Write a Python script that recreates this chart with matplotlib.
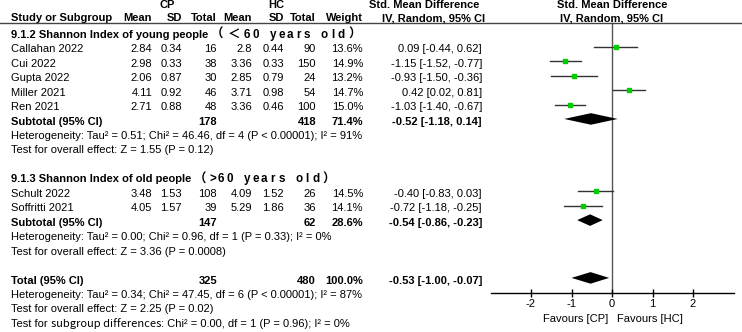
import matplotlib
matplotlib.use("Agg")
import matplotlib.pyplot as plt
import matplotlib.transforms as mtransforms

plt.rcParams['font.family'] = ['Liberation Sans', 'Noto Sans CJK SC', 'DejaVu Sans']
plt.rcParams['font.size'] = 8

# -----------------------------
# Data
# -----------------------------
group_titles = ["9.1.2 Shannon Index of young people", "9.1.3 Shannon Index of old people"]
group_ages = ["（＜60 years old）", "（>60 years old）"]
studies = ["Callahan 2022", "Cui 2022", "Gupta 2022", "Miller 2021", "Ren 2021",
           "Schult 2022", "Soffritti 2021"]
study_group = [0, 0, 0, 0, 0, 1, 1]
cp_mean = [2.84, 2.98, 2.06, 4.11, 2.71, 3.48, 4.05]
cp_sd = [0.34, 0.33, 0.87, 0.92, 0.88, 1.53, 1.57]
cp_n = [16, 38, 30, 46, 48, 108, 39]
hc_mean = [2.8, 3.36, 2.85, 3.71, 3.36, 4.09, 5.29]
hc_sd = [0.44, 0.33, 0.79, 0.98, 0.46, 1.52, 1.86]
hc_n = [90, 150, 24, 54, 100, 26, 36]
weight = [13.6, 14.9, 13.2, 14.7, 15.0, 14.5, 14.1]
smd = [0.09, -1.15, -0.93, 0.42, -1.03, -0.40, -0.72]
ci_lo = [-0.44, -1.52, -1.50, 0.02, -1.40, -0.83, -1.18]
ci_hi = [0.62, -0.77, -0.36, 0.81, -0.67, 0.03, -0.25]

sub_cp_n = [178, 147]
sub_hc_n = [418, 62]
sub_weight = [71.4, 28.6]
sub_smd = [-0.52, -0.54]
sub_lo = [-1.18, -0.86]
sub_hi = [0.14, -0.23]
sub_het = ["Heterogeneity: Tau² = 0.51; Chi² = 46.46, df = 4 (P < 0.00001); I² = 91%",
           "Heterogeneity: Tau² = 0.00; Chi² = 0.96, df = 1 (P = 0.33); I² = 0%"]
sub_test = ["Test for overall effect: Z = 1.55 (P = 0.12)",
            "Test for overall effect: Z = 3.36 (P = 0.0008)"]

tot_cp_n = 325
tot_hc_n = 480
tot_weight = 100.0
tot_smd = -0.53
tot_lo = -1.00
tot_hi = -0.07
tot_notes = ["Heterogeneity: Tau² = 0.34; Chi² = 47.45, df = 6 (P < 0.00001); I² = 87%",
             "Test for overall effect: Z = 2.25 (P = 0.02)"]
subgroup_note = ["Test for ", "subgroup differences", ": Chi² = 0.00, df = 1 (P = 0.96); I² = 0%"]

xticks = [-2, -1, 0, 1, 2]

# -----------------------------
# Layout (pixels)
# -----------------------------
W, H = 742, 332
row0, row_h = 32.25, 14.45
fig = plt.figure(figsize=(W / 100, H / 100), dpi=100)
ax = fig.add_axes([490.5 / W, 0, 243 / W, 1])
ax.set_xlim(-3, 3)
ax.set_ylim((H - row0) / row_h, -row0 / row_h)
ax.patch.set_visible(False)
renderer = fig.canvas.get_renderer()

tr = mtransforms.blended_transform_factory(fig.transFigure, ax.transData)
tdy = 0.18  # text sits a bit lower than marks


def txt(xpx, row, s, ha="left", bold=False, **kw):
    return ax.text(xpx / W, row + tdy, s, transform=tr, ha=ha, va="center",
                   fontweight="bold" if bold else "normal", clip_on=False, **kw)


def mono(x0, row, s, unit, **kw):
    # CJK-style fixed cells: full-width signs take two cells, latin one
    x = x0
    for ch in s:
        full = ord(ch) > 0x2E80
        cw = 2 * unit if full else unit
        if ch != " ":
            txt(x + cw / 2, row, ch, ha="center", fontsize=9 if full else 8.4, **kw)
        x += cw


col_x = dict(name=11, cpm=152, cpsd=182, cpn=217, hcm=252, hcsd=284, hcn=316, w=363, ci=482)

# -----------------------------
# Header
# -----------------------------
top_row = (5 - row0) / row_h - tdy
hrow = (18 - row0) / row_h - tdy
txt(167, top_row, "CP", ha="center", bold=True)
txt(276, top_row, "HC", ha="center", bold=True)
txt(col_x['name'], hrow, "Study or Subgroup", bold=True)
for key, lab in [('cpm', "Mean"), ('cpsd', "SD"), ('cpn', "Total"), ('hcm', "Mean"),
                 ('hcsd', "SD"), ('hcn', "Total"), ('w', "Weight")]:
    txt(col_x[key], hrow, lab, ha="right", bold=True)
txt(424, top_row, "Std. Mean Difference", ha="center", bold=True)
txt(434, hrow, "IV, Random, 95% CI", ha="center", bold=True)
ax.text(0, top_row + tdy, "Std. Mean Difference", ha="center", va="center",
        fontweight="bold", clip_on=False)
ax.text(0, hrow + tdy, "IV, Random, 95% CI", ha="center", va="center",
        fontweight="bold", clip_on=False)
line_row = (23 - row0) / row_h
ax.plot([0, 1], [line_row, line_row], transform=tr, color="#444444", lw=1, clip_on=False)

# -----------------------------
# Subgroups
# -----------------------------
row = 0
for g in range(2):
    t = txt(col_x['name'], row, group_titles[g], bold=True)
    mono(t.get_window_extent(renderer).x1, row, group_ages[g], 8.6, bold=True)
    row += 1
    for i in range(len(studies)):
        if study_group[i] != g:
            continue
        txt(col_x['name'], row, studies[i])
        txt(col_x['cpm'], row, f"{cp_mean[i]:g}", ha="right")
        txt(col_x['cpsd'], row, f"{cp_sd[i]:.2f}", ha="right")
        txt(col_x['cpn'], row, str(cp_n[i]), ha="right")
        txt(col_x['hcm'], row, f"{hc_mean[i]:g}", ha="right")
        txt(col_x['hcsd'], row, f"{hc_sd[i]:.2f}", ha="right")
        txt(col_x['hcn'], row, str(hc_n[i]), ha="right")
        txt(col_x['w'], row, f"{weight[i]:.1f}%", ha="right")
        txt(col_x['ci'], row, f"{smd[i]:.2f} [{ci_lo[i]:.2f}, {ci_hi[i]:.2f}]", ha="right")
        ax.plot([ci_lo[i], ci_hi[i]], [row, row], color="#333333", lw=1, zorder=2)
        ax.plot(smd[i], row, marker="s", ms=3.2, color="#00cc00", mec="#00cc00", zorder=3)
        row += 1
    txt(col_x['name'], row, "Subtotal (95% CI)", bold=True)
    txt(col_x['cpn'], row, str(sub_cp_n[g]), ha="right", bold=True)
    txt(col_x['hcn'], row, str(sub_hc_n[g]), ha="right", bold=True)
    txt(col_x['w'], row, f"{sub_weight[g]:.1f}%", ha="right", bold=True)
    txt(col_x['ci'], row, f"{sub_smd[g]:.2f} [{sub_lo[g]:.2f}, {sub_hi[g]:.2f}]", ha="right", bold=True)
    ax.fill([sub_lo[g], sub_smd[g], sub_hi[g], sub_smd[g]], [row, row - 0.4, row, row + 0.4],
            color="black", lw=0, zorder=3)
    row += 1
    txt(col_x['name'], row, sub_het[g])
    row += 1
    txt(col_x['name'], row, sub_test[g])
    row += 2

# -----------------------------
# Total
# -----------------------------
txt(col_x['name'], row, "Total (95% CI)", bold=True)
txt(col_x['cpn'], row, str(tot_cp_n), ha="right", bold=True)
txt(col_x['hcn'], row, str(tot_hc_n), ha="right", bold=True)
txt(col_x['w'], row, f"{tot_weight:.1f}%", ha="right", bold=True)
txt(col_x['ci'], row, f"{tot_smd:.2f} [{tot_lo:.2f}, {tot_hi:.2f}]", ha="right", bold=True)
ax.fill([tot_lo, tot_smd, tot_hi, tot_smd], [row, row - 0.4, row, row + 0.4],
        color="black", lw=0, zorder=3)
for k, note in enumerate(tot_notes):
    txt(col_x['name'], row + 1 + k, note)

# last line: "subgroup differences" is set in another face
xpos = col_x['name']
last_row = row + 1 + len(tot_notes)
for k, part in enumerate(subgroup_note):
    fam = ['Noto Sans CJK SC'] if k == 1 else ['Liberation Sans']
    t = txt(xpos, last_row, part, family=fam)
    xpos = t.get_window_extent(renderer).x1

# -----------------------------
# Axis
# -----------------------------
axis_row = (293 - row0) / row_h
ax.plot([0, 0], [line_row, axis_row], color="#555555", lw=1, zorder=1)
for s in ["top", "left", "right"]:
    ax.spines[s].set_visible(False)
ax.spines['bottom'].set_position(('data', axis_row))
ax.spines['bottom'].set_linewidth(1)
ax.set_yticks([])
ax.set_xticks(xticks)
ax.set_xticklabels([str(t) for t in xticks])
ax.tick_params(axis='x', direction='inout', length=6, width=1, pad=1.5, labelsize=8)
fav_row = (319 - row0) / row_h
ax.text(-0.1, fav_row, "Favours [CP]", ha="right", va="center", clip_on=False)
ax.text(0.12, fav_row, "Favours [HC]", ha="left", va="center", clip_on=False)

fig.savefig("out.png", dpi=100)
